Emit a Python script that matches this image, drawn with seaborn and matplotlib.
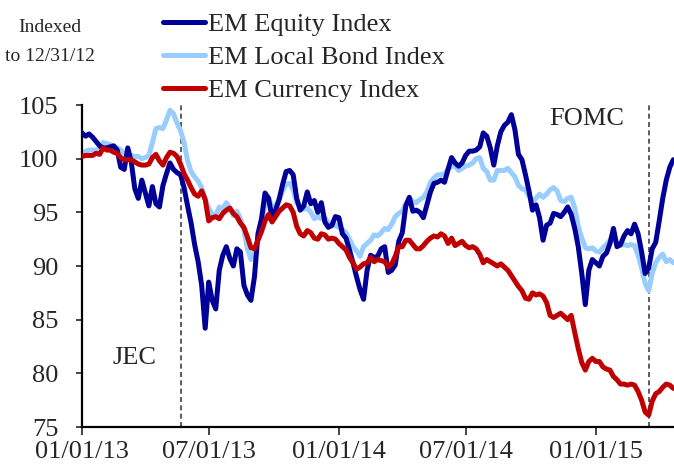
import pandas as pd
import matplotlib
matplotlib.use("Agg")
import matplotlib.pyplot as plt
import matplotlib.dates as mdates
import seaborn as sns

# Values, one point every 5 days from 01/01/13
START = "2013-01-01"
STEP = "5D"

equity = [
    102.4, 102.1, 102.3, 102.0, 101.6, 101.2, 101.0, 101.0, 101.1, 101.2,
    100.8, 99.2, 99.0, 101.0, 99.7, 97.2, 96.3, 98.0, 96.8, 95.6,
    97.4, 95.8, 95.5, 97.5, 98.6, 99.6, 99.0, 98.7, 98.5, 97.3,
    95.6, 94.0, 92.0, 90.4, 88.2, 84.2, 88.5, 86.8, 86.0, 89.6,
    91.0, 91.8, 90.7, 90.0, 91.6, 91.3, 88.2, 87.3, 86.8, 89.0,
    93.0, 94.4, 96.8, 96.3, 94.5, 95.2, 96.2, 97.6, 98.8, 98.9,
    98.5, 96.3, 95.2, 95.6, 96.9, 95.8, 96.1, 95.0, 95.9, 94.1,
    93.6, 93.8, 94.6, 94.5, 93.0, 92.6, 91.5, 90.3, 89.0, 87.8,
    86.9, 89.6, 91.0, 90.8, 90.9, 91.6, 91.8, 89.4, 89.6, 90.1,
    92.3, 93.1, 95.6, 96.4, 95.1, 95.2, 95.0, 94.5, 95.7, 96.9,
    97.7, 97.8, 98.0, 97.8, 99.0, 100.1, 99.6, 99.3, 99.6, 100.3,
    100.7, 100.7, 100.8, 101.1, 102.4, 102.1, 101.0, 99.4, 101.2, 102.5,
    103.1, 103.4, 104.1, 102.7, 100.4, 99.9, 98.5, 97.0, 95.2, 95.7,
    94.5, 92.4, 93.8, 94.0, 94.9, 94.8, 94.6, 95.0, 95.5, 94.8,
    93.5, 91.8, 89.3, 86.4, 89.6, 90.6, 90.3, 90.0, 90.9, 91.2,
    92.1, 93.5, 91.8, 92.0, 92.8, 93.3, 93.0, 93.9, 93.0, 91.3,
    89.3, 89.8, 91.6, 92.2, 94.2, 96.3, 98.0, 99.2, 99.9,
]

local_bond = [
    100.2, 100.7, 100.8, 100.8, 100.8, 100.9, 101.5, 101.4, 101.3, 101.1,
    101.0, 100.8, 100.5, 100.4, 100.3, 100.2, 100.2, 100.0, 100.1, 100.3,
    101.5, 102.8, 102.9, 102.8, 103.6, 104.5, 104.2, 103.3, 102.6, 101.5,
    99.8, 98.8, 98.3, 97.9, 97.3, 96.2, 95.4, 94.8, 94.7, 95.5,
    95.3, 95.9, 95.4, 94.7, 95.1, 94.4, 93.3, 91.6, 90.6, 91.3,
    92.6, 94.2, 95.7, 96.4, 95.4, 95.6, 96.2, 97.0, 97.6, 97.7,
    97.1, 95.9, 95.5, 95.3, 95.4, 95.0, 94.4, 94.6, 94.4, 94.5,
    94.0, 93.7, 93.8, 93.6, 93.4, 93.1, 92.5, 91.8, 91.4, 90.9,
    91.8, 92.1, 92.4, 92.9, 92.8, 93.1, 93.5, 93.4, 93.9, 94.6,
    94.9, 95.1, 95.8, 96.3, 96.0, 95.9, 96.2, 96.4, 96.9, 97.8,
    98.2, 98.5, 98.5, 98.6, 99.0, 99.3, 99.3, 98.9, 99.1, 99.3,
    99.4, 99.6, 100.0, 100.1, 99.1, 98.8, 98.0, 98.0, 98.9, 98.9,
    98.9, 99.1, 98.7, 98.3, 97.5, 97.2, 97.1, 96.5, 96.1, 96.3,
    96.7, 96.4, 96.7, 97.1, 97.3, 97.0, 96.1, 96.0, 96.3, 96.4,
    95.4, 93.7, 92.6, 91.7, 91.6, 91.7, 91.4, 91.3, 91.7, 92.0,
    92.4, 92.6, 92.1, 91.9, 92.0, 91.9, 92.0, 91.9, 91.0, 89.8,
    88.4, 87.7, 89.3, 90.3, 90.8, 91.1, 90.4, 90.6, 90.3,
]

currency = [
    100.2, 100.3, 100.3, 100.3, 100.5, 100.4, 101.0, 100.8, 100.8, 100.6,
    100.5, 100.1, 99.9, 99.9, 99.9, 99.7, 99.5, 99.4, 99.4, 99.5,
    100.1, 100.4, 99.8, 99.4, 100.1, 100.6, 100.5, 100.2, 99.5, 98.6,
    98.0, 97.3, 96.7, 96.5, 97.0, 96.2, 94.2, 94.5, 94.6, 94.4,
    94.9, 95.2, 95.4, 94.9, 94.6, 94.0, 93.6, 92.7, 91.7, 91.6,
    92.4, 93.2, 94.2, 94.8, 94.1, 94.6, 95.1, 95.4, 95.7, 95.6,
    95.0, 93.7, 93.0, 92.8, 93.3, 93.1, 92.6, 92.5, 93.0, 92.9,
    92.5, 92.6, 92.5, 92.1, 91.8, 91.5, 90.8, 90.3, 89.7, 89.9,
    90.2, 90.3, 90.8, 90.4, 90.6, 90.5, 90.4, 89.9, 90.2, 90.9,
    91.8, 91.8, 92.4, 92.4, 92.0, 91.6, 91.6, 91.9, 92.3, 92.6,
    92.8, 92.7, 93.0, 92.8, 92.1, 92.6, 91.9, 92.1, 92.3, 91.9,
    91.7, 91.8, 91.6, 91.1, 90.3, 90.6, 90.4, 90.2, 90.0, 90.2,
    89.9, 89.6, 89.1, 88.6, 88.1, 87.7, 87.0, 86.9, 87.5, 87.3,
    87.4, 87.2, 86.6, 85.4, 85.2, 85.4, 85.6, 85.3, 85.0, 85.4,
    83.8, 82.3, 81.0, 80.3, 81.1, 81.4, 81.1, 81.1, 80.6, 80.4,
    80.3, 79.7, 79.4, 79.0, 79.0, 78.9, 79.0, 78.9, 78.3, 77.5,
    76.4, 76.1, 77.4, 78.1, 78.3, 78.7, 79.0, 78.9, 78.6,
]

labels = ["EM Equity Index", "EM Local Bond Index", "EM Currency Index"]
colors = ["#000099", "#99CCFF", "#C00000"]
events = {"JEC": "2013-05-22", "FOMC": "2015-03-18"}
tick_dates = ["2013-01-01", "2013-07-01", "2014-01-01", "2014-07-01", "2015-01-01"]

dates = pd.date_range(START, periods=len(equity), freq=STEP)
df = pd.DataFrame({"date": dates, labels[0]: equity, labels[1]: local_bond, labels[2]: currency})

sns.set_style("ticks")
plt.rcParams["font.family"] = ["Liberation Serif", "DejaVu Serif"]

fig = plt.figure(figsize=(6.74, 4.69), dpi=100)
ax = fig.add_axes([82 / 674, 42 / 469, 1 - 82 / 674, 322 / 469])

# draw order: bond underneath, then equity, then currency on top
zorders = {labels[1]: 2, labels[0]: 3, labels[2]: 4}
for lab, col in zip(labels, colors):
    sns.lineplot(data=df, x="date", y=lab, ax=ax, color=col, lw=3.6,
                 label=lab, zorder=zorders[lab], legend=False)

for name, d in events.items():
    ax.axvline(pd.Timestamp(d), color="#404040", lw=1.2, ls=(0, (3, 2)), zorder=1)

ax.text(pd.Timestamp("2013-03-17"), 81.4, "JEC", fontsize=19, ha="center", va="center")
ax.text(pd.Timestamp("2014-12-19"), 103.7, "FOMC", fontsize=19, ha="center", va="center")

ax.set_ylim(75, 105)
ax.set_yticks([75, 80, 85, 90, 95, 100, 105])
ax.set_xlim(dates[0], dates[-1] + pd.Timedelta(days=1))
ax.set_xticks(pd.to_datetime(tick_dates))
ax.xaxis.set_major_formatter(mdates.DateFormatter("%m/%d/%y"))
ax.set_xlabel("")
ax.set_ylabel("")
ax.tick_params(axis="y", labelsize=19, length=4, width=1.2, pad=13, direction="out")
ax.tick_params(axis="x", labelsize=19, length=6, width=1.2, pad=4, direction="out")
for s in ["top", "right"]:
    ax.spines[s].set_visible(False)
for s in ["left", "bottom"]:
    ax.spines[s].set_linewidth(1.6)
    ax.spines[s].set_color("black")

handles = [ax.get_lines()[i] for i in range(3)]
fig.legend(handles, labels, loc="upper left", bbox_to_anchor=(163 / 674, 1 - 13 / 469),
           frameon=False, fontsize=19, handlelength=1.6, handletextpad=0.12,
           labelspacing=0.36, borderpad=0, borderaxespad=0)

fig.text(50 / 674, 1 - 42 / 469, "Indexed\nto 12/31/12", fontsize=14,
         ha="center", va="center", linespacing=1.95)

fig.savefig("out.png", dpi=100)
